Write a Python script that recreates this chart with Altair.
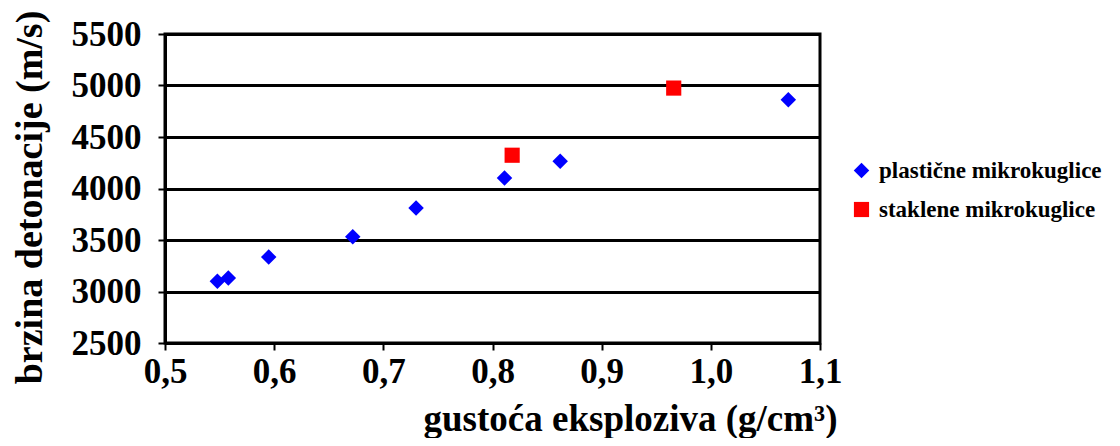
import altair as alt
import pandas as pd

# data
plastic_x = [0.548, 0.558, 0.595, 0.672, 0.730, 0.811, 0.862, 1.071]
plastic_y = [3100, 3132, 3334, 3531, 3810, 4102, 4264, 4861]
glass_x = [0.818, 0.966]
glass_y = [4323, 4975]
series_names = ["plastične mikrokuglice", "staklene mikrokuglice"]
x_ticks = [0.5, 0.6, 0.7, 0.8, 0.9, 1.0, 1.1]
y_ticks = [2500, 3000, 3500, 4000, 4500, 5000, 5500]

df = pd.DataFrame({
    "x": plastic_x + glass_x,
    "y": plastic_y + glass_y,
    "series": [series_names[0]] * len(plastic_x) + [series_names[1]] * len(glass_x),
})

FONT = "Liberation Serif"
PLOT_LEFT, PLOT_TOP = 165, 34
W, H = 655, 309

legend = alt.Legend(title=None, orient="none", legendX=685, legendY=125,
                    labelFontSize=23, labelFont=FONT, labelFontWeight="bold",
                    labelColor="black", rowPadding=15, symbolSize=190,
                    symbolStrokeWidth=0, labelOffset=6, labelLimit=400)

chart = alt.Chart(df).mark_point(filled=True, opacity=1).encode(
    x=alt.X("x:Q",
            scale=alt.Scale(domain=[0.5, 1.1], nice=False, zero=False),
            axis=alt.Axis(values=x_ticks, grid=False, tickSize=7, tickWidth=2,
                          tickColor="black", domainColor="black", domainWidth=3,
                          labelFlush=False,
                          labelExpr="replace(format(datum.value, '.1f'), '.', ',')",
                          labelPadding=4, labelFontSize=35, labelFont=FONT,
                          labelFontWeight="bold", labelColor="black",
                          title="gustoća eksploziva (g/cm³)", titleFontSize=37,
                          titleFont=FONT, titleFontWeight="bold", titleColor="black",
                          titleX=465, titleY=87, titleBaseline="alphabetic",
                          titleAnchor="start", titleAlign="center")),
    y=alt.Y("y:Q",
            scale=alt.Scale(domain=[2500, 5500], nice=False, zero=False),
            axis=alt.Axis(values=y_ticks, format="d", grid=True, gridColor="black",
                          gridWidth=3, gridOpacity=1, tickSize=7, tickWidth=2,
                          tickColor="black", domainColor="black", domainWidth=3,
                          labelFlush=False,
                          labelPadding=17, labelFontSize=35, labelFont=FONT,
                          labelFontWeight="bold", labelColor="black",
                          title="brzina detonacije (m/s)", titleFontSize=38,
                          titleFont=FONT, titleFontWeight="bold", titleColor="black",
                          titleAngle=-90, titleX=-135, titleY=163,
                          titleAlign="center", titleBaseline="middle")),
    color=alt.Color("series:N",
                    scale=alt.Scale(domain=series_names, range=["#0000ff", "#ff0000"]),
                    legend=legend),
    shape=alt.Shape("series:N",
                    scale=alt.Scale(domain=series_names, range=["diamond", "square"]),
                    legend=legend),
    size=alt.Size("series:N",
                  scale=alt.Scale(domain=series_names, range=[240, 230]),
                  legend=None),
).properties(
    width=W, height=H,
    background="white",
    autosize=alt.AutoSizeParams(type="none"),
    padding={"left": PLOT_LEFT - 8, "top": PLOT_TOP - 8,
             "right": 1104 - (PLOT_LEFT - 8) - W, "bottom": 430 - (PLOT_TOP - 8) - H},
).configure_view(
    stroke="black", strokeWidth=3
)

chart.save("out.html", embed_options={"renderer": "svg", "actions": False})
